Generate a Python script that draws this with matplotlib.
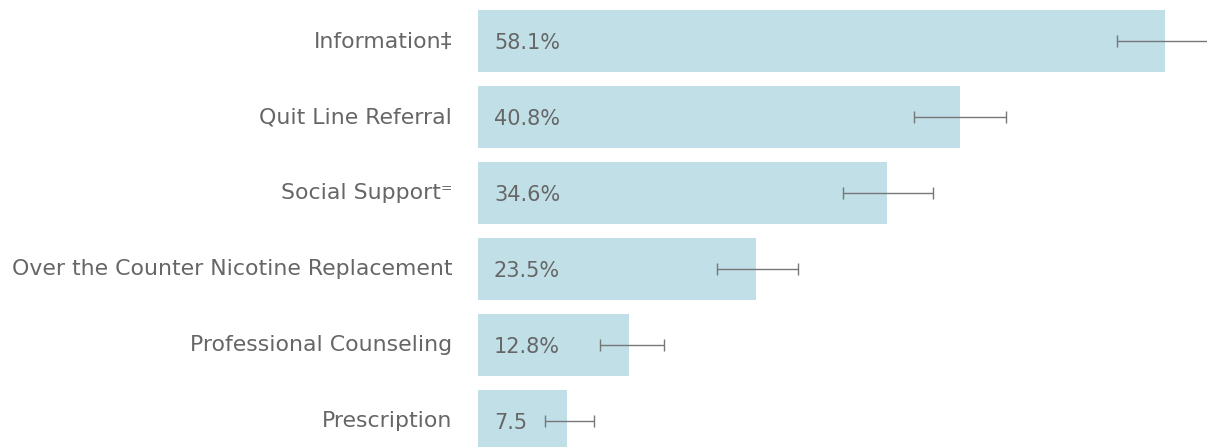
import numpy as np
import matplotlib.pyplot as plt

labels = ["Information\u2021", "Quit Line Referral", "Social Support\u207c",
          "Over the Counter Nicotine Replacement", "Professional Counseling", "Prescription"]
values = [58.1, 40.8, 34.6, 23.5, 12.8, 7.5]
value_text = ["58.1%", "40.8%", "34.6%", "23.5%", "12.8%", "7.5"]
ci_low = [54.1, 36.9, 30.9, 20.2, 10.3, 5.7]
ci_high = [62.2, 44.7, 38.5, 27.1, 15.7, 9.8]

# the variable Open Sans renders condensed here, DejaVu is the nearest static face
plt.rcParams['font.family'] = ['DejaVu Sans']
txt = '#666666'

fig = plt.figure(figsize=(12.07, 4.47), dpi=100)
ax = fig.add_axes([478/1207, 0, 1 - 478/1207, 1])

y = np.arange(len(labels))
ax.barh(y, values, height=62/76, color='#c0dfe7')
v = np.array(values)
err = [v - np.array(ci_low), np.array(ci_high) - v]
ax.errorbar(values, y, xerr=err, fmt='none', ecolor='#777777', elinewidth=1,
            capsize=4.3, capthick=1, clip_on=False)

for i in range(len(labels)):
    ax.annotate(value_text[i], (0, i), xytext=(11.5, -5.6), textcoords='offset points',
                va='baseline', ha='left', fontsize=15, color=txt)
    ax.annotate(labels[i], (0, i), xytext=(-18.7, -4.6), textcoords='offset points',
                va='baseline', ha='right', fontsize=15.8, color=txt)

ax.set_xlim(0, 729/11.82)
ax.set_ylim((447-41)/76, -41/76)
ax.set_yticks([])
ax.set_xticks([])
for s in ax.spines.values():
    s.set_visible(False)

fig.savefig('out.png', dpi=100)
